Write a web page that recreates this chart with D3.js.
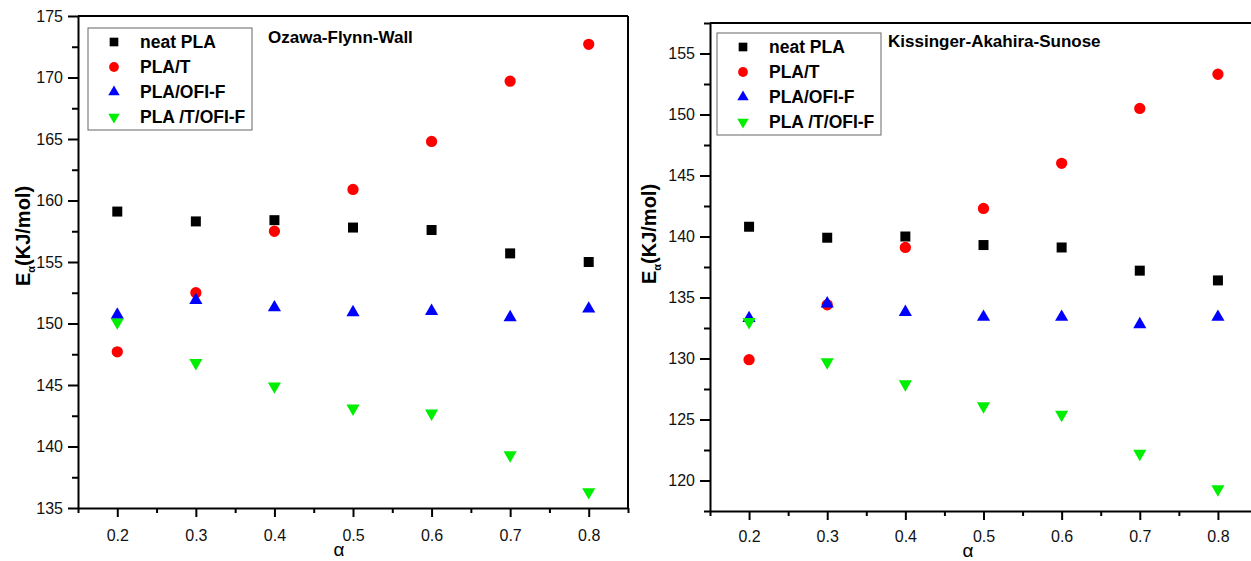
<!DOCTYPE html>
<html lang="en">
<head>
    <meta charset="UTF-8">
    <title>Activation energy vs conversion</title>
    <script src="https://d3js.org/d3.v7.min.js"></script>
    <style>
        body {
            margin: 0;
            padding: 0;
            background-color: #fff;
            font-family: "Liberation Sans", Arial, sans-serif;
        }
        .axis .domain { stroke: #000; stroke-width: 2px; }
        .axis .tick line { stroke: #000; stroke-width: 2px; }
        .axis .tick text { font-size: 16px; fill: #111; font-family: "Liberation Sans", Arial, sans-serif; }
        .frame { stroke: #000; stroke-width: 2px; }
        .title { font-size: 17px; font-weight: bold; }
        .legend-box { fill: #fff; stroke: #666; stroke-width: 1px; }
        .legend-text { font-size: 17.5px; font-weight: bold; }
        .y-label { font-size: 20px; font-weight: bold; }
        .x-label { font-size: 19px; }
    </style>
</head>
<body>
    <svg id="chart" width="1251" height="561"></svg>

    <script>
        // valores
        const alpha = [0.2, 0.3, 0.4, 0.5, 0.6, 0.7, 0.8];
        const alphaMinor = [0.15, 0.25, 0.35, 0.45, 0.55, 0.65, 0.75, 0.85];
        const seriesNames = ["neat PLA", "PLA/T", "PLA/OFI-F", "PLA /T/OFI-F"];

        // Ozawa-Flynn-Wall
        const ofwNeat = [159.1, 158.3, 158.4, 157.8, 157.6, 155.7, 155.0];
        const ofwT = [147.7, 152.5, 157.5, 160.9, 164.8, 169.7, 172.7];
        const ofwOfi = [150.7, 151.9, 151.3, 150.9, 151.0, 150.5, 151.2];
        const ofwTOfi = [150.1, 146.8, 144.9, 143.1, 142.7, 139.3, 136.3];
        const ofwTicks = [135, 140, 145, 150, 155, 160, 165, 170, 175];
        const ofwMinor = [137.5, 142.5, 147.5, 152.5, 157.5, 162.5, 167.5, 172.5];

        // Kissinger-Akahira-Sunose
        const kasNeat = [140.8, 139.9, 140.0, 139.3, 139.1, 137.2, 136.4];
        const kasT = [129.9, 134.4, 139.1, 142.3, 146.0, 150.5, 153.3];
        const kasOfi = [133.3, 134.5, 133.8, 133.4, 133.4, 132.8, 133.4];
        const kasTOfi = [133.0, 129.7, 127.9, 126.1, 125.4, 122.2, 119.3];
        const kasTicks = [120, 125, 130, 135, 140, 145, 150, 155];
        const kasMinor = [117.5, 122.5, 127.5, 132.5, 137.5, 142.5, 147.5, 152.5, 157.5];

        const colors = ["#000000", "#ff0000", "#0000ff", "#00ee00"];
        const shapes = [d3.symbolSquare, d3.symbolCircle, d3.symbolTriangle, d3.symbolTriangle];
        const sizes = [100, 100, 75, 75];
        const rotations = [0, 0, 0, 180];

        const svg = d3.select("#chart");

        function drawPanel(p) {
            const x = d3.scaleLinear().domain([0.15, 0.85]).range([p.left, p.right]);
            const y = d3.scaleLinear().domain(p.yDomain).range([p.bottom, p.top]);
            const g = svg.append("g");

            // eixo x (menores e maiores)
            g.append("g")
                .attr("class", "axis")
                .attr("transform", `translate(0,${p.bottom})`)
                .call(d3.axisBottom(x).tickValues(alphaMinor).tickSize(5).tickSizeOuter(0).tickFormat(""));
            g.append("g")
                .attr("class", "axis")
                .attr("transform", `translate(0,${p.bottom})`)
                .call(d3.axisBottom(x).tickValues(alpha).tickSize(9).tickSizeOuter(0).tickPadding(p.xPad)
                    .tickFormat(d3.format(".1f")))
                .select(".domain").remove();

            // eixo y
            g.append("g")
                .attr("class", "axis")
                .attr("transform", `translate(${p.left},0)`)
                .call(d3.axisLeft(y).tickValues(p.minor).tickSize(6).tickSizeOuter(0).tickFormat(""));
            g.append("g")
                .attr("class", "axis")
                .attr("transform", `translate(${p.left},0)`)
                .call(d3.axisLeft(y).tickValues(p.ticks).tickSize(10).tickSizeOuter(0).tickPadding(5))
                .select(".domain").remove();

            // moldura
            g.append("line").attr("class", "frame")
                .attr("x1", p.left).attr("x2", p.right)
                .attr("y1", p.top).attr("y2", p.top);
            g.append("line").attr("class", "frame")
                .attr("x1", p.right).attr("x2", p.right)
                .attr("y1", p.top).attr("y2", p.bottom);

            // pontos
            p.series.forEach((vals, i) => {
                g.selectAll(null)
                    .data(vals)
                    .enter().append("path")
                    .attr("d", d3.symbol().type(shapes[i]).size(sizes[i]))
                    .attr("transform", (d, j) => `translate(${x(alpha[j])},${y(d)}) rotate(${rotations[i]})`)
                    .attr("fill", colors[i]);
            });

            // legenda
            const lg = g.append("g").attr("transform", `translate(${p.legendX},${p.legendY})`);
            lg.append("rect").attr("class", "legend-box")
                .attr("width", 164).attr("height", 102);
            seriesNames.forEach((name, i) => {
                const row = lg.append("g").attr("transform", `translate(0,${14 + i * 25})`);
                row.append("path")
                    .attr("d", d3.symbol().type(shapes[i]).size(sizes[i] * 0.75))
                    .attr("transform", `translate(26,0) rotate(${rotations[i]})`)
                    .attr("fill", colors[i]);
                row.append("text").attr("class", "legend-text")
                    .attr("x", 52).attr("dy", "0.36em")
                    .text(name);
            });

            // título do método
            g.append("text").attr("class", "title")
                .attr("x", p.titleX).attr("y", p.titleY)
                .text(p.title);

            // rótulos dos eixos
            const yl = g.append("text").attr("class", "y-label")
                .attr("transform", `translate(${p.yLabelX},${p.yLabelY}) rotate(-90)`)
                .attr("text-anchor", "middle");
            yl.append("tspan").text("E");
            yl.append("tspan").attr("font-size", "11px").attr("dy", "5").text("α");
            yl.append("tspan").attr("dy", "-5").text("(KJ/mol)");

            g.append("text").attr("class", "x-label")
                .attr("x", p.xLabelX).attr("y", p.xLabelY)
                .attr("text-anchor", "middle")
                .text("α");
        }

        drawPanel({
            left: 78, right: 628, top: 16, bottom: 508, xPad: 13,
            yDomain: [135, 175], ticks: ofwTicks, minor: ofwMinor,
            series: [ofwNeat, ofwT, ofwOfi, ofwTOfi],
            legendX: 88, legendY: 28,
            title: "Ozawa-Flynn-Wall", titleX: 268, titleY: 43,
            yLabelX: 30, yLabelY: 236, xLabelX: 339, xLabelY: 556
        });

        drawPanel({
            left: 710, right: 1257, top: 23, bottom: 511, xPad: 11,
            yDomain: [117.5, 157.5], ticks: kasTicks, minor: kasMinor,
            series: [kasNeat, kasT, kasOfi, kasTOfi],
            legendX: 717, legendY: 33,
            title: "Kissinger-Akahira-Sunose", titleX: 888, titleY: 47,
            yLabelX: 656, yLabelY: 234, xLabelX: 968, xLabelY: 557
        });
    </script>
</body>
</html>
